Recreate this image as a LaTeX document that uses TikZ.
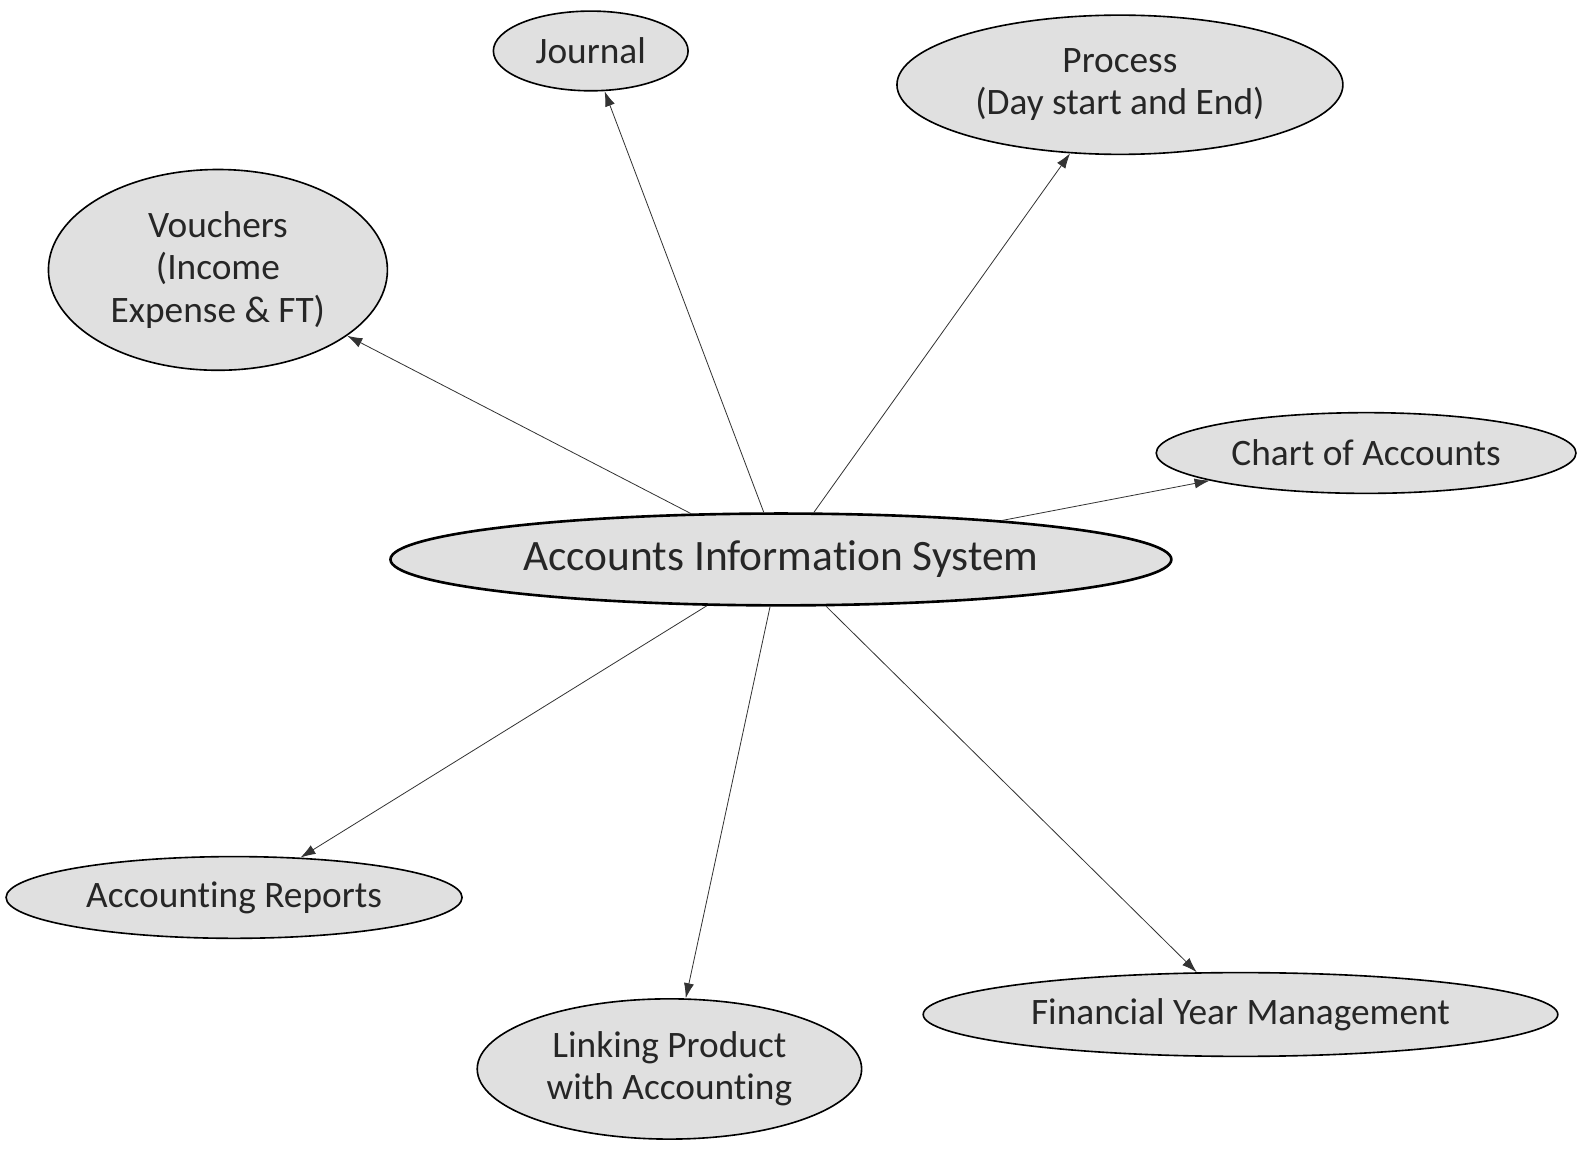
\documentclass[tikz,border=0pt]{standalone}
\usepackage{fontspec}
\setmainfont{Carlito}[Ligatures=NoCommon]
\usetikzlibrary{shapes.geometric,arrows.meta}

\begin{document}
\begin{tikzpicture}[x=1pt,y=-1pt,
  topic/.style={ellipse,draw=black,line width=1.6pt,fill=boxgray,inner sep=0pt,
    text=black!85,align=center,font=\fontsize{37}{42}\selectfont},
  link/.style={draw=black!80,line width=0.8pt,-{Latex[length=15pt,width=10pt]}}]
  \definecolor{boxgray}{RGB}{224,224,224}
  \useasboundingbox (0,0) rectangle (1566,1142);
  % the centre
  \node[topic,line width=2.6pt,minimum width=774pt,minimum height=91pt,
    font=\fontsize{43}{48}\selectfont] (ais) at (774,554.5) {Accounts Information System};
  % the topics round it
  \node[topic,minimum width=193pt,minimum height=79pt] (jrn) at (585.5,50.5) {Journal};
  \node[topic,minimum width=442pt,minimum height=138pt] (prc) at (1110,84) {Process\\(Day start and End)};
  \node[topic,minimum width=336pt,minimum height=199pt] (vch) at (216,267.5) {Vouchers\\(Income\\Expense \& FT)};
  \node[topic,minimum width=416pt,minimum height=80pt] (coa) at (1354,449) {Chart of Accounts};
  \node[topic,minimum width=452pt,minimum height=81pt] (rep) at (232,889.5) {Accounting Reports};
  \node[topic,minimum width=381pt,minimum height=139pt] (lnk) at (663.5,1059.5) {Linking Product\\with Accounting};
  \node[topic,minimum width=629pt,minimum height=83pt] (fym) at (1229.5,1005.5) {Financial Year Management};
  % connectors
  \draw[link] (ais.153) -- (vch.333);
  \draw[link] (ais.110) -- (jrn.289);
  \draw[link] (ais.55.5) -- (prc.234);
  \draw[link] (ais.10) -- (coa.190.4);
  \draw[link] (ais.212.8) -- (rep.31.5);
  \draw[link] (ais.257.9) -- (lnk.77.6);
  \draw[link] (ais.314.7) -- (fym.136.4);
\end{tikzpicture}
\end{document}
